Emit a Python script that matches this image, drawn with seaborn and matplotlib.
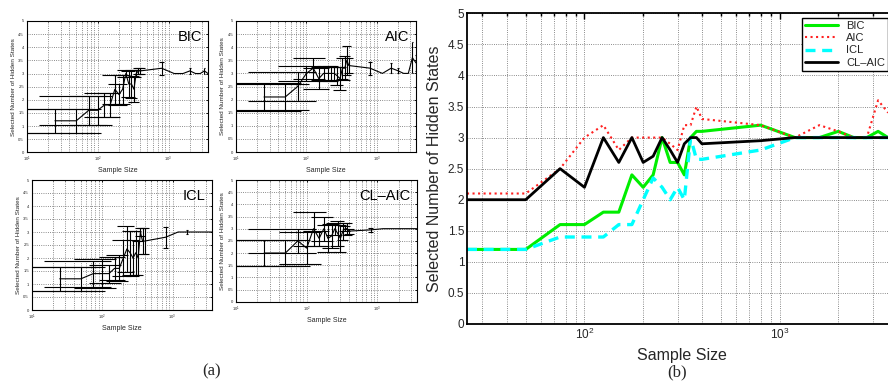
import numpy as np
import pandas as pd
import matplotlib
matplotlib.use("Agg")
import matplotlib.pyplot as plt
import seaborn as sns
from matplotlib.ticker import LogLocator, MultipleLocator, FuncFormatter, NullFormatter

# sample sizes used in the simulation
sample_size = [25, 50, 75, 100, 125, 150, 175, 200, 225, 250, 275, 300,
               325, 350, 375, 400, 800, 1200, 1600, 2000, 2400, 2800, 3200, 3600]

# mean selected number of hidden states
bic = [1.2, 1.2, 1.6, 1.6, 1.8, 1.8, 2.4, 2.2, 2.4, 3.0, 2.6, 2.6,
       2.4, 3.0, 3.1, 3.1, 3.2, 3.0, 3.0, 3.1, 3.0, 3.0, 3.1, 3.0]
aic = [2.1, 2.1, 2.5, 3.0, 3.2, 2.8, 3.0, 3.0, 3.0, 3.0, 2.9, 2.8,
       3.2, 3.2, 3.5, 3.3, 3.2, 3.0, 3.2, 3.1, 3.0, 3.0, 3.6, 3.4]
icl = [1.2, 1.2, 1.4, 1.4, 1.4, 1.6, 1.6, 2.0, 2.35, 2.2, 2.0, 2.2,
       2.0, 3.0, 2.65, 2.65, 2.8, 3.0, 3.0, 3.0, 3.0, 3.0, 3.0, 3.0]
claic = [2.0, 2.0, 2.5, 2.2, 3.0, 2.6, 3.0, 2.6, 2.7, 3.0, 2.8, 2.6,
         2.9, 3.0, 3.0, 2.9, 2.95, 3.0, 3.0, 3.0, 3.0, 3.0, 3.0, 3.0]

# standard deviations (error bars in panel a)
bic_err = [0.45, 0.45, 0.55, 0.55, 0.45, 0.45, 0.55, 0.4, 0.55, 0.15, 0.5, 0.55,
           0.5, 0.15, 0.1, 0.1, 0.25, 0.0, 0.0, 0.1, 0.0, 0.0, 0.1, 0.0]
aic_err = [0.55, 0.5, 0.55, 0.3, 0.4, 0.4, 0.25, 0.3, 0.3, 0.25, 0.35, 0.45,
           0.4, 0.45, 0.55, 0.3, 0.25, 0.0, 0.18, 0.1, 0.0, 0.0, 0.6, 0.3]
icl_err = [0.45, 0.45, 0.5, 0.55, 0.35, 0.45, 0.5, 0.7, 0.9, 0.85, 0.7, 0.85,
           0.65, 0.15, 0.5, 0.5, 0.4, 0.0, 0.08, 0.0, 0.0, 0.0, 0.0, 0.0]
claic_err = [0.55, 0.55, 0.5, 0.65, 0.7, 0.3, 0.5, 0.55, 0.5, 0.25, 0.5, 0.55,
             0.35, 0.1, 0.25, 0.1, 0.07, 0.0, 0.0, 0.0, 0.0, 0.0, 0.0, 0.0]

sns.set_style("white")
plt.rcParams['font.family'] = ['Liberation Sans', 'DejaVu Sans']
plt.rcParams['mathtext.fontset'] = 'custom'
plt.rcParams['mathtext.rm'] = 'Liberation Sans'

W, H = 888, 381
fig = plt.figure(figsize=(W / 100, H / 100), dpi=100)


def px_axes(left, top, right, bottom):
    return fig.add_axes([left / W, 1 - bottom / H, (right - left) / W, (bottom - top) / H])


yfmt = FuncFormatter(lambda v, p: '%g' % v)


def style_axes(ax, xmin, xmax, tick_fs, spine_lw, maj_len, min_len):
    ax.set_xscale('log')
    ax.set_xlim(xmin, xmax)
    ax.set_ylim(0, 5)
    ax.xaxis.set_major_locator(LogLocator(base=10))
    ax.xaxis.set_minor_locator(LogLocator(base=10, subs=np.arange(2, 10)))
    ax.xaxis.set_minor_formatter(NullFormatter())
    ax.yaxis.set_major_locator(MultipleLocator(0.5))
    ax.yaxis.set_major_formatter(yfmt)
    ax.grid(True, which='major', axis='both', ls=':', color='0.4', lw=0.6)
    ax.grid(True, which='minor', axis='x', ls=':', color='0.4', lw=0.6)
    ax.tick_params(which='both', direction='in', top=True, right=True,
                   labelsize=tick_fs, width=spine_lw * 0.8, color='black', pad=2)
    ax.tick_params(which='major', length=maj_len)
    ax.tick_params(which='minor', length=min_len)
    for s in ax.spines.values():
        s.set_visible(True)
        s.set_color('black')
        s.set_linewidth(spine_lw)


# ---- panel (a): four small error-bar plots ----
cap = 60  # MATLAB-style cap half width in data units
panels = [
    ("BIC", bic, bic_err, (26.7, 21, 208, 152.3)),
    ("AIC", aic, aic_err, (236, 21, 416, 152)),
    ("ICL", icl, icl_err, (31.7, 180, 211.7, 310)),
    ("CL\u2013AIC", claic, claic_err, (236, 180, 416.7, 301.7)),
]
for name, mean, err, box in panels:
    ax = px_axes(*box)
    d = pd.DataFrame({'n': sample_size, 'm': mean, 'e': err})
    sns.lineplot(data=d, x='n', y='m', ax=ax, color='black', lw=0.8)
    bars = d[d['e'] > 0]
    lo = bars['m'] - bars['e']
    hi = bars['m'] + bars['e']
    ax.vlines(bars['n'], lo, hi, color='black', lw=0.8)
    left = np.maximum(bars['n'] - cap, 10)
    right = bars['n'] + cap
    ax.hlines(lo, left, right, color='black', lw=0.8)
    ax.hlines(hi, left, right, color='black', lw=0.8)
    style_axes(ax, 10, 3600, 3, 0.8, 1.5, 0.8)
    ax.set_xlabel('Sample Size', fontsize=5, labelpad=2)
    ax.set_ylabel('Selected Number of Hidden States', fontsize=4.6, labelpad=2)
    ax.text(0.965, 0.93, name, transform=ax.transAxes, ha='right', va='top',
            fontsize=10.5, color='black')

# ---- panel (b): all criteria together ----
axb = px_axes(467, 13.3, 897, 324)
sns.lineplot(x=sample_size, y=bic, ax=axb, color='#00ee00', lw=2.2, label='BIC')
sns.lineplot(x=sample_size, y=aic, ax=axb, color='#ff2020', lw=1.5,
             linestyle=':', label='AIC')
sns.lineplot(x=sample_size, y=icl, ax=axb, color='#00ffff', lw=2.4,
             linestyle=(0, (3, 2)), label='ICL')
sns.lineplot(x=sample_size, y=claic, ax=axb, color='black', lw=2.0, label='CL\u2013AIC')
style_axes(axb, 25, 4000, 8.5, 1.3, 4, 2)
axb.set_xlabel('Sample Size', fontsize=11.5, labelpad=4)
axb.set_ylabel('Selected Number of Hidden States', fontsize=11.5, labelpad=4)
leg = axb.legend(loc='upper left', bbox_to_anchor=(801.7 / W, 1 - 17.7 / H),
                 bbox_transform=fig.transFigure, borderaxespad=0,
                 fontsize=8, frameon=True, fancybox=False,
                 edgecolor='black', framealpha=1,
                 handlelength=3.0, handletextpad=0.7,
                 labelspacing=0.2, borderpad=0.3)
leg.get_frame().set_linewidth(1.0)

fig.text(212 / W, 1 - 371 / H, '(a)', ha='center', va='center',
         fontsize=12, family='Liberation Serif')
fig.text(677 / W, 1 - 372 / H, '(b)', ha='center', va='center',
         fontsize=12, family='Liberation Serif')

fig.savefig('out.png', dpi=100)
